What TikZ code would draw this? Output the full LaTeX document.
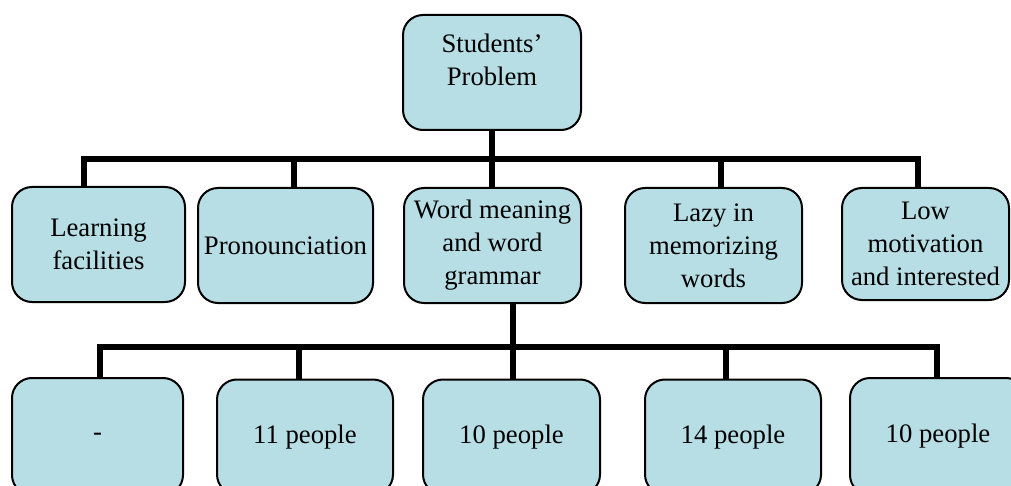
\documentclass[tikz,border=0pt]{standalone}
\usepackage{fontspec}
\setmainfont{Liberation Serif}
\usetikzlibrary{positioning,calc}
\definecolor{boxfill}{RGB}{183,222,228}
\tikzset{
	prob/.style={draw, line width=2pt, rounded corners=20pt, align=center, fill=boxfill, minimum width=176pt, minimum height=115pt, inner sep=2pt, font=\fontsize{26.7}{33}\selectfont},
	link/.style={line width=5.5pt}
}

\begin{document}
\begin{tikzpicture}[x=1pt, y=-1pt]
	\useasboundingbox (0,0) rectangle (1011,486);
	\node[prob, minimum width=178pt] (root) at (492,72.5) {Students’\\Problem\rule[-25pt]{0pt}{25pt}};
	\node[prob, minimum width=173pt] (fac) at (98.5,244.5) {Learning\\facilities};
	\node[prob, minimum width=175pt] (pron) at (285.5,245.5) {Pronounciation};
	\node[prob, minimum width=177pt] (word) at (492.5,245.5) {Word meaning\\and word\\grammar};
	\node[prob, minimum width=177pt] (lazy) at (713.5,245.5) {Lazy in\\memorizing\\words};
	\node[prob, minimum width=167pt, minimum height=112pt] (motiv) at (925.5,244) {Low\\motivation\\and interested};
	\node[prob, minimum width=171pt, minimum height=117pt] (cntfac) at (97.5,436.5) {-};
	\node[prob] (cntpron) at (305,437) {11 people};
	\node[prob, minimum width=177pt] (cntword) at (511.5,437) {10 people};
	\node[prob] (cntlazy) at (733,437) {14 people};
	\node[prob, minimum height=117pt] (cntmotiv) at (938,436.5) {10 people};
	\coordinate (hubA) at (493,159);
	\coordinate (hubB) at (513,347);
	\draw[link] (root.south) -- (root.south |- word.north);
	\draw[link] ([xshift=-14.5pt]fac.north) |- (hubA) -| ([xshift=-7.5pt]motiv.north);
	\draw[link] ([xshift=8.5pt]pron.north) |- (hubA);
	\draw[link] ([xshift=7.5pt]lazy.north) |- (hubA);
	\draw[link] ([xshift=20.5pt]word.south) -- ([xshift=1.5pt]cntword.north);
	\draw[link] ([xshift=2.5pt]cntfac.north) |- (hubB) -| ([xshift=-1pt]cntmotiv.north);
	\draw[link] ([xshift=-6pt]cntpron.north) |- (hubB);
	\draw[link] ([xshift=-7pt]cntlazy.north) |- (hubB);
\end{tikzpicture}
\end{document}
